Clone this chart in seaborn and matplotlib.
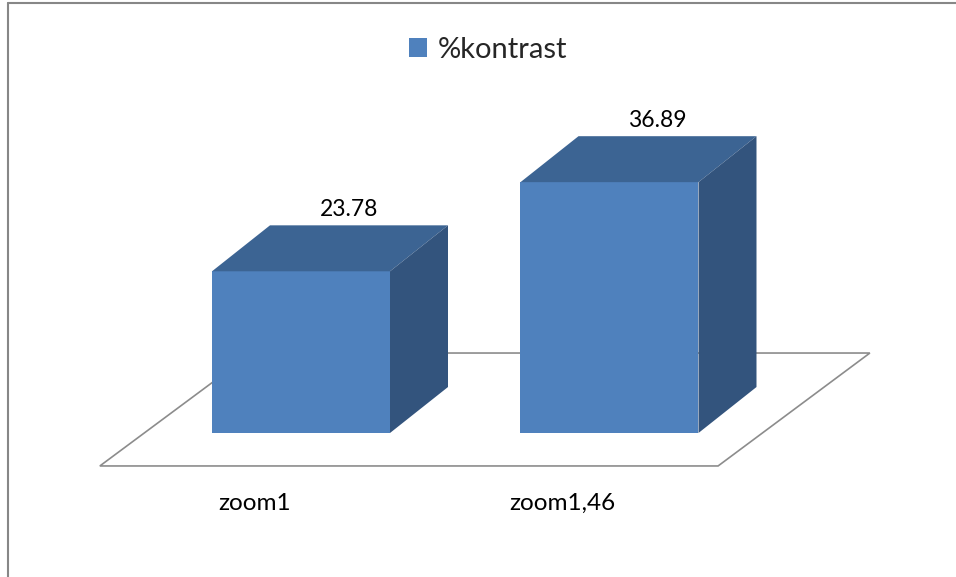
import matplotlib
matplotlib.use("Agg")
import matplotlib.pyplot as plt
from matplotlib.patches import Polygon
from matplotlib.lines import Line2D
import seaborn as sns
import pandas as pd

# ── Data ──────────────────────────────────────────────────────────────────────
categories = ["zoom1", "zoom1,46"]
kontrast = [23.78, 36.89]
series_name = "%kontrast"

df = pd.DataFrame({"zoom": categories, "kontrast": kontrast})

# ── Style ─────────────────────────────────────────────────────────────────────
sns.set_style("white")
plt.rcParams["font.family"] = ["Lato", "DejaVu Sans"]

FRONT = "#4F81BD"
TOP = "#3C6493"
SIDE = "#33547D"
GRID = "#8C8C8C"

W, H = 956, 577
fig = plt.figure(figsize=(W / 100, H / 100), dpi=100)
fig.patch.set_facecolor("white")
ax = fig.add_axes([0, 0, 1, 1])

# front faces of the bars
sns.barplot(data=df, x="zoom", y="kontrast", color=FRONT, saturation=1,
            width=0.577, linewidth=0, label=series_name, ax=ax, zorder=3)

# axis mapping (category spacing ~308 px, ~6.8 px per unit)
ax.set_xlim(-0.9757, 2.1232)
ax.set_ylim(-21.18, 63.68)
ax.axis("off")

# oblique depth of the 3D bars
DX, DY = 0.188, 6.76

# ── Floor ─────────────────────────────────────────────────────────────────────
floor = Polygon([(-0.652, -4.85), (1.352, -4.85), (1.844, 11.76), (-0.159, 11.76)],
                closed=True, facecolor="white", edgecolor=GRID, lw=1.2, zorder=1)
ax.add_patch(floor)

# ── Top / side faces + value labels ───────────────────────────────────────────
for p in ax.patches[:]:
    if p is floor:
        continue
    x0, w, h = p.get_x(), p.get_width(), p.get_height()
    top = [(x0, h), (x0 + w, h), (x0 + w + DX, h + DY), (x0 + DX, h + DY)]
    side = [(x0 + w, 0), (x0 + w + DX, DY), (x0 + w + DX, h + DY), (x0 + w, h)]
    ax.add_patch(Polygon(top, closed=True, facecolor=TOP, lw=0, zorder=3))
    ax.add_patch(Polygon(side, closed=True, facecolor=SIDE, lw=0, zorder=3))
    ax.text(x0 + w / 2 + 0.156, h + DY + 2.35, f"{h:.2f}",
            ha="center", va="center", fontsize=16.5, color="black", zorder=4)

# ── Category labels ───────────────────────────────────────────────────────────
for i, cat in enumerate(categories):
    ax.text(i - 0.152, -10.3, cat, ha="center", va="center",
            fontsize=17.5, color="black")

# ── Legend ────────────────────────────────────────────────────────────────────
handles, labels = ax.get_legend_handles_labels()
ax.legend(handles[:1], labels[:1], loc="center", bbox_to_anchor=(0.5105, 0.913),
          bbox_transform=fig.transFigure, frameon=False, fontsize=21,
          handlelength=0.62, handleheight=0.62, handletextpad=0.35)

# ── Chart border (left and top edges visible) ─────────────────────────────────
fig.add_artist(Line2D([7.5 / W, 7.5 / W], [0, 1 - 3 / H], transform=fig.transFigure,
                      color="#878787", lw=1.5))
fig.add_artist(Line2D([7.5 / W, 1], [1 - 3 / H, 1 - 3 / H], transform=fig.transFigure,
                      color="#878787", lw=1.5))

fig.savefig("out.png", dpi=100, facecolor="white")
